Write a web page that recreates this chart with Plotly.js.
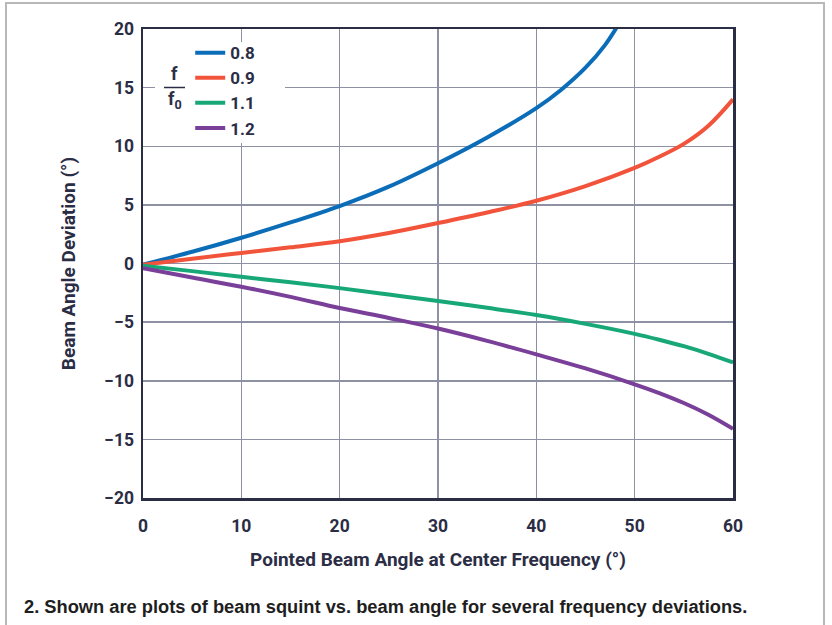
<!DOCTYPE html>
<html>
<head>
<meta charset="utf-8">
<script src="https://cdn.plot.ly/plotly-3.0.1.min.js"></script>
<style>
  html, body { margin: 0; padding: 0; width: 832px; height: 625px; overflow: hidden; background: #ffffff; }
  #frame { position: absolute; left: 5px; top: 2px; width: 820px; height: 660px; border: 2px solid #b8b8b8; box-sizing: border-box; pointer-events: none; z-index: 5; }
  #chart { position: absolute; left: 0; top: 0; width: 832px; height: 625px; }
</style>
</head>
<body>
<div id="chart"></div>
<div id="frame"></div>
<script>
// Pointed beam angle at center frequency (degrees)
const xAngles = [0, 5, 10, 15, 20, 25, 30, 35, 40, 45, 50, 52.5, 55, 57.5, 60];
const xBlue = [0, 5, 10, 15, 20, 25, 30, 35, 40, 42.5, 45, 47, 48.5];

// Beam angle deviation (degrees)
const dev08 = [-0.1, 1.0, 2.2, 3.5, 4.9, 6.55, 8.55, 10.75, 13.25, 14.8, 16.7, 18.65, 20.6];
const dev09 = [-0.1, 0.4, 0.9, 1.38, 1.9, 2.6, 3.45, 4.35, 5.35, 6.6, 8.15, 9.1, 10.2, 11.75, 14.0];
const dev11 = [-0.2, -0.65, -1.13, -1.6, -2.1, -2.65, -3.2, -3.78, -4.4, -5.15, -6.0, -6.5, -7.05, -7.7, -8.44];
const dev12 = [-0.4, -1.2, -1.98, -2.85, -3.8, -4.65, -5.55, -6.6, -7.75, -8.95, -10.3, -11.05, -11.9, -12.9, -14.1];

const seriesNames = ['0.8', '0.9', '1.1', '1.2'];
const seriesColors = ['#0b6db8', '#f2533b', '#18a878', '#7a3f99'];

const xTickVals = [0, 10, 20, 30, 40, 50, 60];
const yTickVals = [-20, -15, -10, -5, 0, 5, 10, 15, 20];
const yTickText = ['\u221220', '\u221215', '\u221210', '\u22125', '0', '5', '10', '15', '20'];

const navy = '#2b2d45';
const gridColor = '#8d91a3';
const fam = 'Roboto, Inter, sans-serif';
const tickFont = { family: fam, size: 17.5, color: navy, weight: 'bold' };

const xs = [xBlue, xAngles, xAngles, xAngles];
const ys = [dev08, dev09, dev11, dev12];
const traces = seriesNames.map((n, i) => ({
  type: 'scatter', mode: 'lines', name: n,
  x: xs[i], y: ys[i],
  line: { color: seriesColors[i], width: 4, shape: 'spline', smoothing: 1 },
  hoverinfo: 'x+y+name'
}));

const layout = {
  width: 832, height: 625,
  margin: { l: 143, r: 99, t: 29, b: 127 },
  paper_bgcolor: '#ffffff', plot_bgcolor: '#ffffff',
  showlegend: true,
  legend: {
    x: 0.08, y: 0.987, xanchor: 'left', yanchor: 'top',
    bgcolor: 'rgba(0,0,0,0)', borderwidth: 0,
    font: { family: fam, size: 17, color: navy, weight: 'bold' },
    traceorder: 'normal'
  },
  xaxis: {
    range: [0, 60], tickvals: xTickVals, ticks: '', ticklabelstandoff: 10,
    showgrid: true, gridcolor: gridColor, gridwidth: 1.5, zeroline: false,
    showline: true, linecolor: navy, linewidth: 2.5, mirror: true,
    tickfont: tickFont,
    title: { text: 'Pointed Beam Angle at Center Frequency (°)', standoff: 18,
             font: { family: fam, size: 19, color: navy, weight: 'bold' } }
  },
  yaxis: {
    range: [-20, 20], tickvals: yTickVals, ticktext: yTickText, ticks: '', ticklabelstandoff: 3,
    showgrid: true, gridcolor: gridColor, gridwidth: 1.5, zeroline: false,
    showline: true, linecolor: navy, linewidth: 2.5, mirror: true,
    tickfont: tickFont,
    title: { text: 'Beam Angle Deviation (°)', standoff: 24,
             font: { family: fam, size: 19, color: navy, weight: 'bold' } }
  },
  shapes: [
    { type: 'rect', xref: 'paper', yref: 'paper', layer: 'above',
      x0: (155 - 143) / 590, x1: (285 - 143) / 590,
      y0: (498 - 143) / 469, y1: (498 - 42) / 469,
      fillcolor: '#ffffff', line: { width: 0 } },
    { type: 'line', xref: 'paper', yref: 'paper', layer: 'above',
      x0: (164 - 143) / 590, x1: (185 - 143) / 590,
      y0: (498 - 87.5) / 469, y1: (498 - 87.5) / 469,
      line: { color: navy, width: 1.5 } }
  ],
  annotations: [
    { xref: 'paper', yref: 'paper', x: (174 - 143) / 590, y: (498 - 74) / 469,
      text: 'f', showarrow: false, xanchor: 'center', yanchor: 'middle',
      font: { family: fam, size: 18, color: navy, weight: 'bold' } },
    { xref: 'paper', yref: 'paper', x: (175 - 143) / 590, y: (498 - 100) / 469,
      text: 'f<sub>0</sub>', showarrow: false, xanchor: 'center', yanchor: 'middle',
      font: { family: fam, size: 18, color: navy, weight: 'bold' } },
    { xref: 'paper', yref: 'paper', x: (22 - 143) / 590, y: (498 - 606) / 469,
      text: '2. Shown are plots of beam squint vs. beam angle for several frequency deviations.',
      showarrow: false, xanchor: 'left', yanchor: 'middle',
      font: { family: 'Liberation Sans, Arial, sans-serif', size: 18.3, color: '#1e1e1e', weight: 'bold' } }
  ]
};

Plotly.newPlot('chart', traces, layout, { displayModeBar: false, staticPlot: true });
</script>
</body>
</html>
